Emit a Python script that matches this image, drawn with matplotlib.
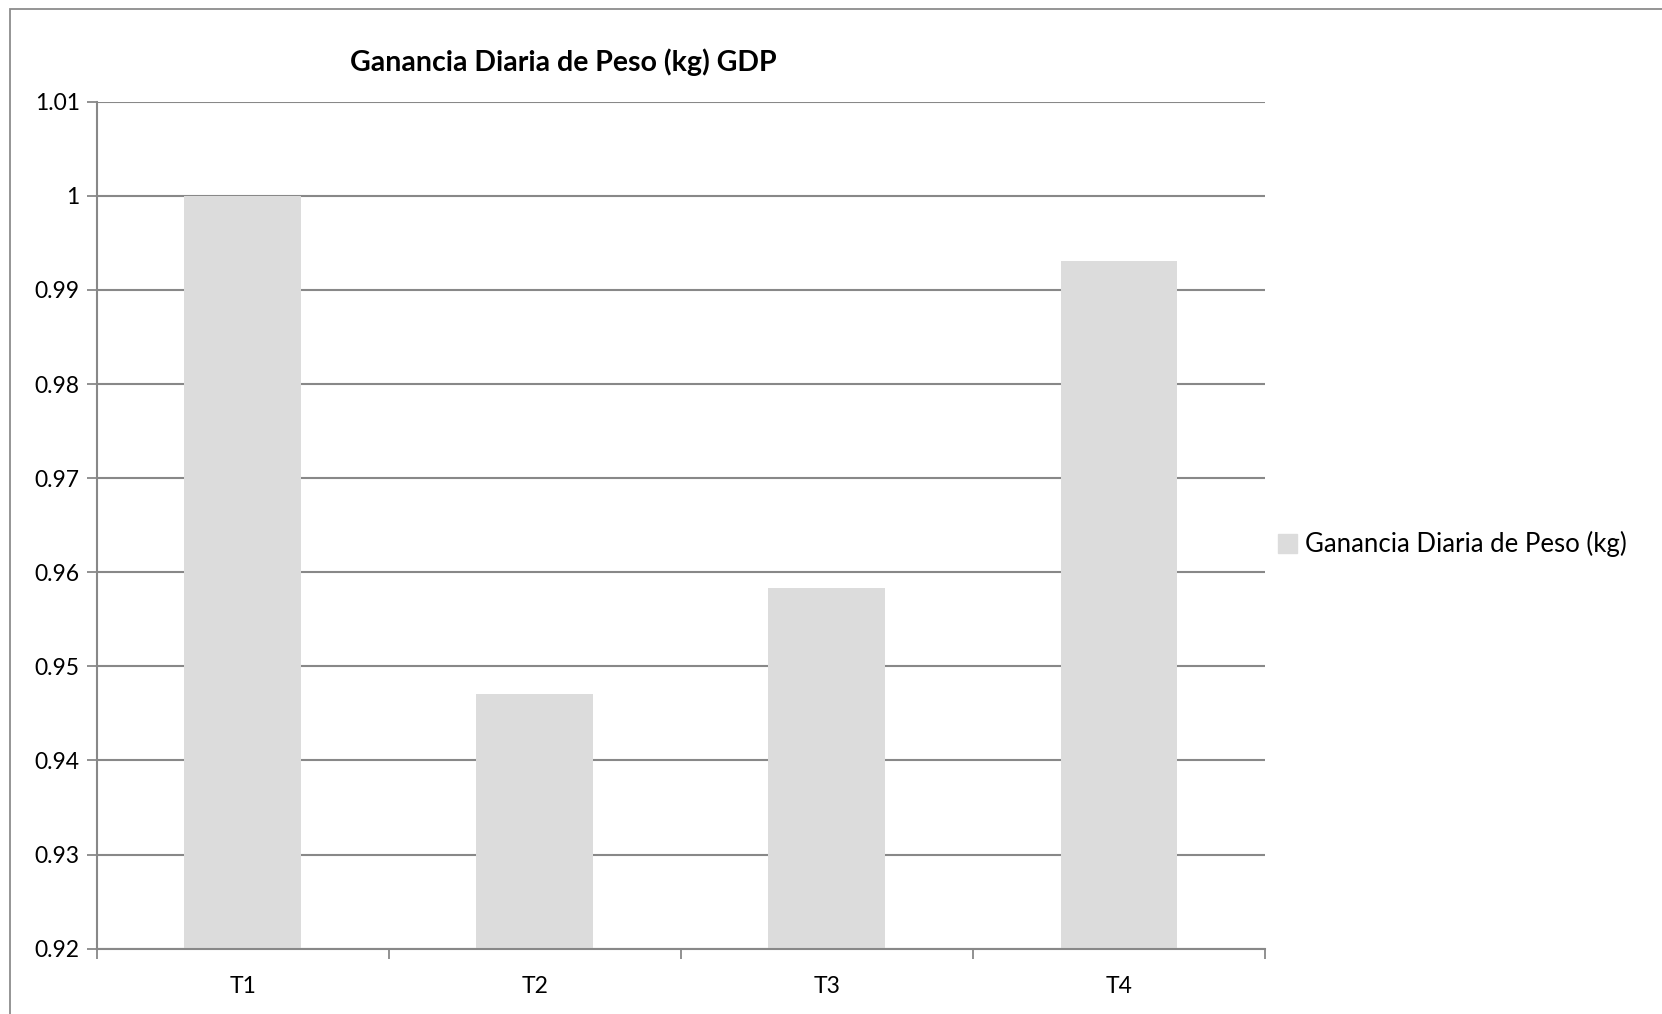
import matplotlib
matplotlib.use('Agg')
import matplotlib.patches as mpatches
import matplotlib.pyplot as plt
import numpy as np

plt.rcParams['font.family'] = ['Lato', 'DejaVu Sans']

categories = ['T1', 'T2', 'T3', 'T4']
gdp_values = [1.000, 0.9471, 0.9583, 0.9931]
series_label = 'Ganancia Diaria de Peso (kg)'
title = 'Ganancia Diaria de Peso (kg) GDP'
y_ticks = [0.92, 0.93, 0.94, 0.95, 0.96, 0.97, 0.98, 0.99, 1.0, 1.01]
y_ticklabels = ['0.92', '0.93', '0.94', '0.95', '0.96', '0.97', '0.98', '0.99', '1', '1.01']

BAR_COLOR = '#dcdcdc'
GRID_COLOR = '#888888'

W, H = 1662, 1014
fig = plt.figure(figsize=(W / 100, H / 100), dpi=100)

# outer chart border (runs off the right / bottom edge like the source)
border_top = 1 - 8.5 / H
fig.patches.append(mpatches.Rectangle((10 / W, -0.05), 1.1, border_top + 0.05,
                                      transform=fig.transFigure, fill=False,
                                      edgecolor='#8c8c8c', linewidth=1.3))

left, right, top, bottom = 96.5, 1265, 101.7, 948.7
ax = fig.add_axes([left / W, 1 - bottom / H, (right - left) / W, (bottom - top) / H])

x = np.arange(len(categories))
ax.bar(x, np.array(gdp_values) - 0.92, bottom=0.92, width=0.4,
       color=BAR_COLOR, label=series_label, zorder=2)

ax.set_xlim(-0.5, len(categories) - 0.5)
ax.set_ylim(0.92, 1.01)
ax.set_yticks(y_ticks)
ax.set_yticklabels(y_ticklabels, fontsize=16.5)
ax.yaxis.grid(True, color=GRID_COLOR, linewidth=1.5, zorder=1)
ax.set_axisbelow(True)

ax.set_xticks(x)
ax.set_xticklabels(categories, fontsize=16.5)
ax.tick_params(axis='x', which='major', length=0, pad=20)
ax.set_xticks(np.arange(-0.5, len(categories)), minor=True)
ax.tick_params(axis='x', which='minor', length=7, color=GRID_COLOR, width=1.3)
ax.tick_params(axis='y', length=7, color=GRID_COLOR, width=1.3, pad=5)

for side in ['top', 'right']:
    ax.spines[side].set_visible(False)
for side in ['left', 'bottom']:
    ax.spines[side].set_color(GRID_COLOR)
    ax.spines[side].set_linewidth(1.5)

fig.text(563 / W, 1 - 62 / H, title, fontsize=20.5, fontweight='bold',
         ha='center', va='center')

handles = [mpatches.Patch(color=BAR_COLOR, label=series_label)]
fig.legend(handles=handles, loc='center left', bbox_to_anchor=(1278 / W, 1 - 544 / H),
           frameon=False, fontsize=18.5, handlelength=0.75, handleheight=0.75,
           handletextpad=0.3, borderaxespad=0, borderpad=0)

fig.savefig('out.png', dpi=100)
